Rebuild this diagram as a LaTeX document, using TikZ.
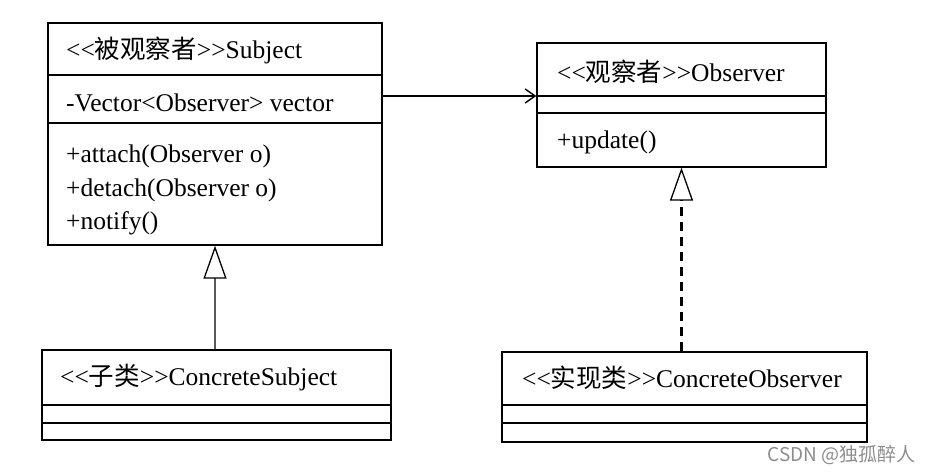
\documentclass[tikz,border=0pt]{standalone}
\usepackage{fontspec}
\setmainfont{Liberation Serif}[Ligatures=NoCommon]
\newfontfamily\cjk{Noto Sans CJK SC}
\newfontfamily\wm{Noto Sans CJK SC}
\usetikzlibrary{arrows.meta}
\tikzset{
  classbox/.style={draw, line width=1.3pt, inner sep=0pt},
  label/.style={anchor=west, inner sep=0pt, font=\fontsize{25.5}{30}\selectfont},
  divider/.style={line width=1.3pt},
  inherit/.style={line width=2pt, draw=black!65, -{Triangle[open, width=23pt, length=33pt, line width=1.3pt, color=black]}},
  realize/.style={line width=2.6pt, draw=black, dash pattern=on 9pt off 6pt, -{Triangle[open, width=23pt, length=33pt, line width=1.3pt, color=black]}},
  assoc/.style={line width=1.4pt, -{Straight Barb[length=10pt, width=14pt, line width=1.4pt]}}
}
\begin{document}
\begin{tikzpicture}[x=1pt,y=-1pt]
\useasboundingbox (0,0) rectangle (932,472);
% boxes
\node[classbox, minimum width=334pt, minimum height=222pt] (subj) at (215,134) {};
\node[classbox, minimum width=289pt, minimum height=124pt] (obs) at (681.5,105) {};
\node[classbox, minimum width=349pt, minimum height=90pt] (cs) at (216.5,395) {};
\node[classbox, minimum width=365pt, minimum height=90pt] (co) at (684.5,397) {};
% dividers
\coordinate (s1) at (48,75); \coordinate (s2) at (48,123);
\draw[divider] (subj.west |- s1) -- (subj.east |- s1);
\draw[divider] (subj.west |- s2) -- (subj.east |- s2);
\coordinate (o1) at (537,96); \coordinate (o2) at (537,113);
\draw[divider] (obs.west |- o1) -- (obs.east |- o1);
\draw[divider] (obs.west |- o2) -- (obs.east |- o2);
\coordinate (c1) at (42,405); \coordinate (c2) at (42,423);
\draw[divider] (cs.west |- c1) -- (cs.east |- c1);
\draw[divider] (cs.west |- c2) -- (cs.east |- c2);
\draw[divider] (co.west |- c1) -- (co.east |- c1);
\draw[divider] (co.west |- c2) -- (co.east |- c2);
% texts
\node[label] (t1) at (66,50) {<{}<{\cjk 被观察者}>{}>Subject};
\node[label] (t2) at (66,103) {-Vector<Observer> vector};
\node[label] (t3) at (66,156) {+attach(Observer o)};
\node[label] (t4) at (66,190) {+detach(Observer o)};
\node[label] (t5) at (66,223) {+notify()};
\node[label] (t6) at (557,72) {<{}<{\cjk 观察者}>{}>Observer};
\node[label] (t7) at (557,142) {+update()};
\node[label] (t8) at (60,378) {<{}<{\cjk 子类}>{}>ConcreteSubject};
\node[label] (t9) at (522,378) {<{}<{\cjk 实现类}>{}>ConcreteObserver};
% connectors
\draw[assoc] (subj.east |- o1) -- (obs.west |- o1);
\draw[inherit] (subj.south |- cs.north) -- (subj.south);
\draw[realize] (obs.south |- co.north) -- (obs.south);
% watermark
\node[anchor=east, inner sep=0pt, text=black!45, font=\wm\fontsize{19}{22}\selectfont] (wmk) at (916,455) {CSDN @独孤醉人};
\end{tikzpicture}
\end{document}
